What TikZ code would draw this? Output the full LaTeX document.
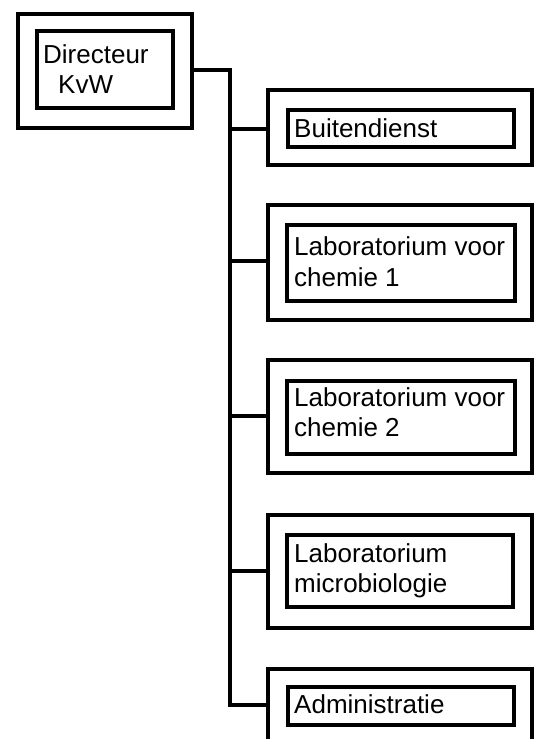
\documentclass[tikz,border=0pt]{standalone}
\usepackage{fontspec}
\setmainfont{Liberation Sans}
\begin{document}
\begin{tikzpicture}[x=1pt,y=-1pt,
  outerbox/.style={draw=black, line width=4pt, minimum width=#1, inner sep=0pt, outer sep=0pt},
  innerbox/.style={draw=black, line width=4pt, inner sep=0pt, outer sep=0pt},
  wire/.style={draw=black, line width=3.5pt, line cap=rect},
  lbl/.style={anchor=base west, inner sep=0pt, font=\fontsize{26}{31}\selectfont}
]
\useasboundingbox (0,0) rectangle (542,739);
\clip (0,0) rectangle (542,739);

% Director
\node[outerbox=174pt, minimum height=114pt] (dirO) at (105,71) {};
\node[innerbox, minimum width=136pt, minimum height=77pt] (dirI) at (105,69.5) {};
\node[lbl] (dirT1) at (43,63) {Directeur};
\node[lbl] (dirT2) at (58,93) {KvW};

% Departments: outer frame, inner frame, text
\node[outerbox=264pt, minimum height=75pt]  (buiO) at (400,127.5) {};
\node[innerbox, minimum width=226pt, minimum height=37pt] (buiI) at (401,128.5) {};
\node[lbl] (buiT) at (294,137) {Buitendienst};

\node[outerbox=264pt, minimum height=115pt] (ch1O) at (400,262.5) {};
\node[innerbox, minimum width=228pt, minimum height=76pt] (ch1I) at (401,263) {};
\node[lbl] (ch1T1) at (294,255) {Laboratorium voor};
\node[lbl] (ch1T2) at (294,286) {chemie 1};

\node[outerbox=264pt, minimum height=113pt] (ch2O) at (400,416.5) {};
\node[innerbox, minimum width=228pt, minimum height=73pt] (ch2I) at (401,417.5) {};
\node[lbl] (ch2T1) at (294,406) {Laboratorium voor};
\node[lbl] (ch2T2) at (294,436) {chemie 2};

\node[outerbox=264pt, minimum height=113pt] (micO) at (400,571.5) {};
\node[innerbox, minimum width=226pt, minimum height=72pt] (micI) at (400,571) {};
\node[lbl] (micT1) at (294,562) {Laboratorium};
\node[lbl] (micT2) at (294,592) {microbiologie};

\node[outerbox=264pt, minimum height=115pt] (admO) at (400,726.5) {};
\node[innerbox, minimum width=226pt, minimum height=38pt] (admI) at (401,706) {};
\node[lbl] (admT) at (294,713) {Administratie};

% Trunk line and branches
\coordinate (trTop) at (230,70);
\coordinate (trBot) at (230,705);
\draw[wire] (dirO.east |- trTop) -- (trTop) -- (trBot);
\foreach \n/\yy in {buiO/129, ch1O/261, ch2O/416, micO/571, admO/705}{
  \draw[wire] (230,\yy) -- (\n.west |- 0,\yy);
}
\end{tikzpicture}
\end{document}
